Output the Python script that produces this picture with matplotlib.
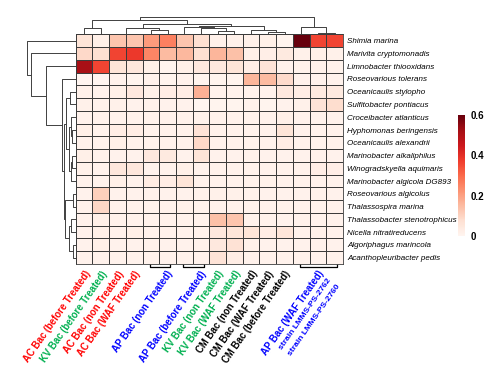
import matplotlib
matplotlib.use("Agg")
import matplotlib.pyplot as plt
import numpy as np

plt.rcParams['font.family'] = ['Liberation Sans', 'DejaVu Sans']

# ---------------- data ----------------
row_labels = ["Shimia marina", "Marivita cryptomonadis", "Limnobacter thiooxidans",
              "Roseovarious tolerans", "Oceanicaulis stylopho", "Sulfitobacter pontiacus",
              "Croceibacter atlanticus", "Hyphomonas beringensis", "Oceanicaulis alexandrii",
              "Marinobacter alkaliphilus", "Winogradskyella aquimaris",
              "Marinobacter algicola DG893", "Roseovarious algicolus", "Thalassospira marina",
              "Thalassobacter stenotrophicus", "Nicella nitratireducens",
              "Algoriphagus marincola", "Acanthopleuribacter pedis"]

values = [
    [0.06, 0.02, 0.13, 0.13, 0.21, 0.26, 0.13, 0.075, 0.015, 0.015, 0.015, 0.02, 0.005, 0.60, 0.36, 0.36],
    [0.09, 0.075, 0.36, 0.38, 0.25, 0.15, 0.155, 0.075, 0.16, 0.14, 0.02, 0.025, 0.04, 0.015, 0.02, 0.015],
    [0.52, 0.36, 0.06, 0.05, 0.02, 0.005, 0.02, 0.045, 0.045, 0.06, 0.03, 0.065, 0.01, 0.012, 0.015, 0.012],
    [0.0, 0.0, 0.01, 0.005, 0.01, 0.005, 0.01, 0.005, 0.005, 0.005, 0.16, 0.15, 0.085, 0.01, 0.01, 0.01],
    [0.015, 0.01, 0.02, 0.045, 0.015, 0.03, 0.03, 0.17, 0.01, 0.01, 0.01, 0.01, 0.045, 0.03, 0.04, 0.04],
    [0.015, 0.01, 0.015, 0.01, 0.01, 0.01, 0.01, 0.0, 0.005, 0.005, 0.01, 0.005, 0.01, 0.015, 0.065, 0.08],
    [0.01, 0.01, 0.01, 0.01, 0.01, 0.01, 0.01, 0.01, 0.01, 0.01, 0.01, 0.01, 0.02, 0.01, 0.01, 0.01],
    [0.02, 0.01, 0.03, 0.03, 0.01, 0.01, 0.01, 0.065, 0.01, 0.01, 0.01, 0.01, 0.06, 0.01, 0.01, 0.01],
    [0.01, 0.01, 0.02, 0.01, 0.01, 0.01, 0.01, 0.09, 0.01, 0.01, 0.01, 0.01, 0.03, 0.01, 0.01, 0.01],
    [0.02, 0.01, 0.01, 0.01, 0.045, 0.04, 0.01, 0.06, 0.01, 0.01, 0.01, 0.01, 0.01, 0.01, 0.01, 0.01],
    [0.015, 0.01, 0.05, 0.05, 0.01, 0.01, 0.02, 0.01, 0.01, 0.01, 0.01, 0.01, 0.01, 0.01, 0.025, 0.025],
    [0.01, 0.01, 0.02, 0.01, 0.035, 0.03, 0.06, 0.01, 0.01, 0.01, 0.01, 0.012, 0.01, 0.01, 0.01, 0.01],
    [0.01, 0.11, 0.01, 0.01, 0.01, 0.01, 0.01, 0.01, 0.015, 0.015, 0.01, 0.01, 0.01, 0.01, 0.01, 0.01],
    [0.01, 0.095, 0.01, 0.01, 0.01, 0.01, 0.015, 0.01, 0.01, 0.01, 0.01, 0.01, 0.012, 0.01, 0.01, 0.01],
    [0.01, 0.02, 0.01, 0.01, 0.01, 0.01, 0.01, 0.01, 0.14, 0.13, 0.01, 0.01, 0.01, 0.01, 0.01, 0.01],
    [0.01, 0.02, 0.01, 0.02, 0.01, 0.01, 0.01, 0.01, 0.045, 0.055, 0.06, 0.03, 0.055, 0.01, 0.015, 0.01],
    [0.01, 0.02, 0.01, 0.01, 0.01, 0.01, 0.01, 0.01, 0.045, 0.07, 0.015, 0.01, 0.01, 0.01, 0.01, 0.01],
    [0.01, 0.01, 0.01, 0.01, 0.01, 0.01, 0.01, 0.01, 0.065, 0.03, 0.01, 0.01, 0.01, 0.01, 0.01, 0.01],
]

col_labels = ["AC Bac (before Treated)", "KV Bac (before Treated)", "AC Bac (non Treated)",
              "AC Bac (WAF Treated)", "AP Bac (non Treated)", "AP Bac (before Treated)",
              "KV Bac (non Treated)", "KV Bac (WAF Treated)", "CM Bac (non Treated)",
              "CM Bac (WAF Treated)", "CM Bac (before Treated)", "AP Bac (WAF Treated)"]
col_groups = [(0, 0), (1, 1), (2, 2), (3, 3), (4, 5), (6, 7), (8, 8), (9, 9),
              (10, 10), (11, 11), (12, 12), (13, 15)]
col_label_colors = ["#ff0000", "#00b050", "#ff0000", "#ff0000", "#0000ff", "#0000ff",
                    "#00b050", "#00b050", "#000000", "#000000", "#000000", "#0000ff"]
strain_labels = ["strain LMMS-PS-2762", "strain LMMS-PS-2760"]

# dendrogram merges: (left, right, height)
col_tree = (((0, 1, 0.34),
             (((2, 3, 0.04), (4, 5, 0.24), 0.38),
              ((6, (7, (8, 9, 0.18), 0.38), 0.42), (10, (11, 12, 0.15), 0.24), 0.50),
              0.58),
             0.84),
            (13, (14, 15, 0.06), 0.44),
            1.0)
row_tree = (0, (1, (2, (3, (((4, 5, 0.12),
                             ((6, (7, 8, 0.08), 0.10), ((9, 10, 0.07), 11, 0.09), 0.13),
                             0.20),
                            ((12, 13, 0.05), ((14, 15, 0.10), (16, 17, 0.06), 0.13), 0.22),
                            0.25), 0.29), 0.62), 0.93), 1.0)

# ---------------- layout ----------------
W, H = 497, 386
fig = plt.figure(figsize=(W / 100, H / 100), dpi=100)


def px_axes(x0, y0, x1, y1):
    return fig.add_axes([x0 / W, 1 - y1 / H, (x1 - x0) / W, (y1 - y0) / H])


data = np.array(values)
nrow, ncol = data.shape
grid_col = "#3c3c3c"

ax = px_axes(75.7, 34.3, 343, 264)
mesh = ax.pcolormesh(data, cmap="Reds", vmin=0, vmax=0.6,
                     edgecolors=grid_col, linewidth=0.6)
ax.set_xlim(0, ncol)
ax.set_ylim(nrow, 0)
ax.set_xticks([])
ax.yaxis.tick_right()
ax.set_yticks(np.arange(nrow) + 0.5)
ax.set_yticklabels(row_labels, fontsize=5.8, style="italic")
ax.tick_params(axis="y", length=0, pad=3)
for s in ax.spines.values():
    s.set_color(grid_col)
    s.set_linewidth(0.6)

# column labels and brackets
label_anchor = []
for (a, b) in col_groups:
    if a == b:
        label_anchor.append(a + 0.5)
    elif b - a == 1:
        label_anchor.append(b + 0.45)
    else:
        label_anchor.append((a + b) / 2 + 0.5)

ROT = 55
for lab, (a, b), xa, c in zip(col_labels, col_groups, label_anchor, col_label_colors):
    ax.text(xa, nrow + 0.38, lab, rotation=ROT, rotation_mode="anchor",
            ha="right", va="top", color=c, fontsize=6.9, fontweight="bold",
            clip_on=False)
    if b > a:
        x0, x1 = a + 0.45, b + 0.65
        ax.plot([x0, x0, x1, x1], [nrow + 0.02, nrow + 0.22, nrow + 0.22, nrow + 0.02],
                color="black", lw=0.9, clip_on=False, solid_capstyle="butt")

# strain names under the last group label
last_a, last_b = col_groups[-1]
for k, s in enumerate(strain_labels):
    ax.text(label_anchor[-1] + 0.55 + 0.55 * k, nrow + 1.05 + 0.45 * k, s,
            rotation=ROT, rotation_mode="anchor", ha="right", va="top",
            color=col_label_colors[-1], fontsize=6.0, fontweight="bold", clip_on=False)


# dendrograms
def draw_tree(axd, node, orient):
    if isinstance(node, int):
        return node + 0.5, 0.0
    left, right, h = node
    pl, hl = draw_tree(axd, left, orient)
    pr, hr = draw_tree(axd, right, orient)
    if orient == "top":
        axd.plot([pl, pl, pr, pr], [hl, h, h, hr], color="#404040", lw=0.7)
    else:
        axd.plot([hl, h, h, hr], [pl, pl, pr, pr], color="#404040", lw=0.7)
    return (pl + pr) / 2, h


axt = px_axes(75.7, 16.0, 343, 34.3)
draw_tree(axt, col_tree, "top")
axt.set_xlim(0, ncol)
axt.set_ylim(0, 1.05)
axt.axis("off")

axl = px_axes(25.5, 34.3, 75.7, 264)
draw_tree(axl, row_tree, "left")
axl.set_xlim(1.04, 0)
axl.set_ylim(nrow, 0)
axl.axis("off")

# colorbar
cax = px_axes(458, 115, 465, 236)
cb = fig.colorbar(mesh, cax=cax)
cb.outline.set_visible(False)
cb.set_ticks([0, 0.2, 0.4, 0.6])
cb.set_ticklabels(["0", "0.2", "0.4", "0.6"])
cax.tick_params(length=0, pad=4, labelsize=7)
for t in cax.get_yticklabels():
    t.set_fontweight("bold")

fig.savefig("out.png", dpi=100)
